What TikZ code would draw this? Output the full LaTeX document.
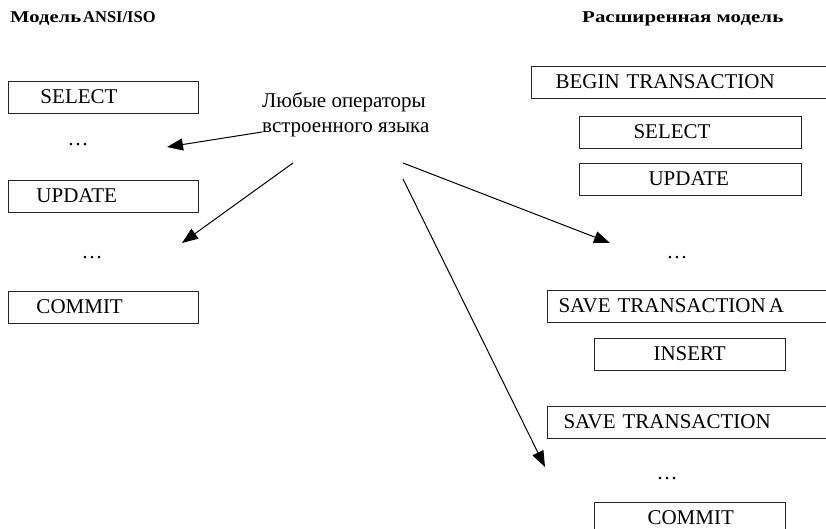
\documentclass[tikz,border=0pt]{standalone}
\usepackage{fontspec}
\usepackage{graphicx}
\setmainfont{Liberation Serif}
\usetikzlibrary{arrows.meta}
\begin{document}
\begin{tikzpicture}[x=1pt,y=-1pt,
  box/.style={draw=black!85, line width=1pt, anchor=north west, inner xsep=0pt, inner ysep=0pt,
    minimum height=32pt, text height=16pt, text depth=4pt, align=left,
    font=\fontsize{21}{25}\selectfont},
  dots/.style={anchor=base, font=\fontsize{21}{25}\selectfont, inner sep=0pt},
  ttl/.style={anchor=base west, inner sep=0pt, font=\fontsize{16.5}{19}\selectfont\bfseries},
  arr/.style={line width=1pt, -{Triangle[length=16pt,width=12pt]}}]
\useasboundingbox (0,0) rectangle (826,529);
\clip (0,0) rectangle (826,529);
% titles
\node[ttl] (t1) at (10,23) {\scalebox{1.25}[1]{Модель}\kern2pt ANSI/ISO};
\node[ttl] (t2) at (582,23) {\scalebox{1.27}[1]{Расширенная модель}};
% left column
\node[box, text width=190pt] (lsel) at (8,81) {\hspace*{32pt}SELECT};
\node[dots] (ld1) at (78,146) {…};
\node[box, text width=190pt] (lupd) at (8,180) {\hspace*{28pt}UPDATE};
\node[dots] (ld2) at (92,258) {…};
\node[box, text width=190pt] (lcom) at (8,291) {\hspace*{28pt}COMMIT};
% label
\node[anchor=base west, align=left, inner sep=0pt, font=\fontsize{21}{25}\selectfont] (lbl) at (262,133)
  {Любые операторы\\встроенного языка};
% right column
\node[box, text width=310pt] (rbeg) at (531,66) {\hspace*{24pt}BEGIN TRANSACTION};
\node[box, text width=222pt] (rsel) at (579,116) {\hspace*{54pt}SELECT};
\node[box, text width=222pt] (rupd) at (579,163) {\hspace*{69pt}UPDATE};
\node[dots] (rd1) at (677,258) {…};
\node[box, text width=290pt] (rsta) at (547,290) {\hspace*{11pt}SAVE TRANSACTION\kern3pt A};
\node[box, text width=191pt] (rins) at (594,338) {\hspace*{59pt}INSERT};
\node[box, text width=290pt] (rst) at (547,406) {\hspace*{16pt}SAVE TRANSACTION};
\node[dots] (rd2) at (667,479) {…};
\node[box, text width=191pt] (rcom) at (594,502) {\hspace*{53pt}COMMIT};
% connector ends
\coordinate (s1) at (262,132);
\coordinate (e1) at (167,147);
\coordinate (s2) at (293,163);
\coordinate (e2) at (182,243);
\coordinate (s3) at (403,163);
\coordinate (e3) at (610,243);
\coordinate (s4) at (403,179);
\coordinate (e4) at (545,467);
\draw[arr] (s1) -- (e1);
\draw[arr] (s2) -- (e2);
\draw[arr] (s3) -- (e3);
\draw[arr] (s4) -- (e4);
\end{tikzpicture}
\end{document}
